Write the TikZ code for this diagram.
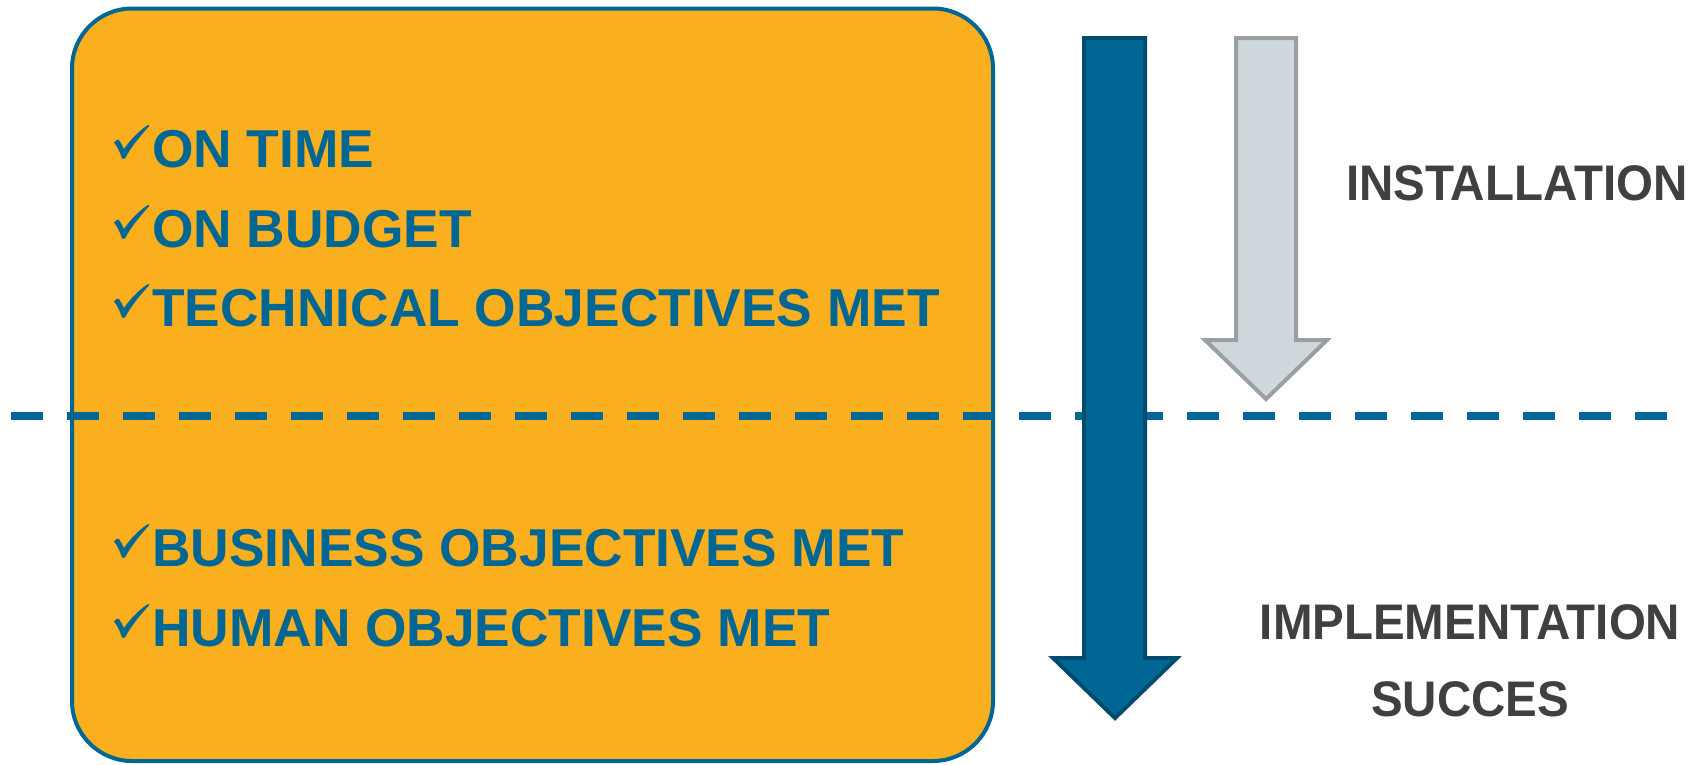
\documentclass[tikz,border=0pt]{standalone}
\usepackage{fontspec}
\setmainfont{Liberation Sans}
\newfontfamily\labelfont[FakeStretch=0.95]{Liberation Sans}

\definecolor{boxfill}{RGB}{250,175,30}
\definecolor{navy}{RGB}{0,103,148}
\definecolor{navyedge}{RGB}{0,75,110}
\definecolor{paleblue}{RGB}{207,216,220}
\definecolor{paleedge}{RGB}{152,160,163}
\definecolor{textgray}{RGB}{64,64,64}

\tikzset{
  goalbox/.style={draw=navy, line width=4pt, fill=boxfill, rounded corners=60pt},
  divider/.style={draw=navy, line width=8pt, dash pattern=on 32pt off 24pt},
  bigarrow/.style={fill=navy, draw=navyedge, line width=4pt, line join=miter},
  smallarrow/.style={fill=paleblue, draw=paleedge, line width=4pt, line join=miter},
  goal/.style={anchor=base west, inner sep=0pt, text=navy,
    font=\fontsize{53.3}{60}\selectfont\bfseries},
  phase/.style={inner sep=0pt, text=textgray,
    font=\labelfont\fontsize{50}{56}\selectfont\bfseries},
  % calligraphic tick mark, drawn from its top-left corner (y grows downward)
  tick/.pic={
    \fill[navy] (0,17.5) .. controls (1.5,15.5) and (3,14.5) .. (4.5,14.5)
      .. controls (6.5,17) and (8.5,21) .. (10,24)
      .. controls (17,14) and (26,5) .. (34,0)
      -- (35.5,0.8)
      .. controls (27,10) and (17,22) .. (11,33.5)
      -- (8,33.5)
      .. controls (6,27) and (3,21) .. cycle;
  },
}

\begin{document}
\begin{tikzpicture}[x=1pt,y=-1pt]
  \useasboundingbox (0,0) rectangle (1698,764);

  % objectives panel
  \draw[goalbox] (72,8.5) rectangle (993,761);

  % dashed boundary between installation and implementation
  \coordinate (dl) at (11,416);
  \coordinate (dr) at (1668,416);
  \draw[divider] (dl) -- (dr);

  % installation arrow (short, pale)
  \draw[smallarrow] (1236,38) -- (1296,38) -- (1296,340) -- (1327,340)
    -- (1266,399) -- (1205,340) -- (1236,340) -- cycle;

  % implementation arrow (long, dark)
  \draw[bigarrow] (1084,38) -- (1145,38) -- (1145,658) -- (1177,658)
    -- (1115,718) -- (1053,658) -- (1084,658) -- cycle;

  % objectives
  \pic at (114,125) {tick};
  \node[goal] (g1) at (152,167) {ON TIME};
  \pic at (114,205) {tick};
  \node[goal] (g2) at (152,247) {ON BUDGET};
  \pic at (114,284) {tick};
  \node[goal] (g3) at (152,326) {TECHNICAL OBJECTIVES MET};
  \pic at (114,524) {tick};
  \node[goal] (g4) at (152,566) {BUSINESS OBJECTIVES MET};
  \pic at (114,604) {tick};
  \node[goal] (g5) at (152,646) {HUMAN OBJECTIVES MET};

  % phase labels
  \node[phase, anchor=base west] (inst) at (1346,200) {INSTALLATION};
  \node[phase, anchor=base] (impl) at (1470,639) {IMPLEMENTATION};
  \node[phase, anchor=base] (succ) at (1470,716) {SUCCES};
\end{tikzpicture}
\end{document}
